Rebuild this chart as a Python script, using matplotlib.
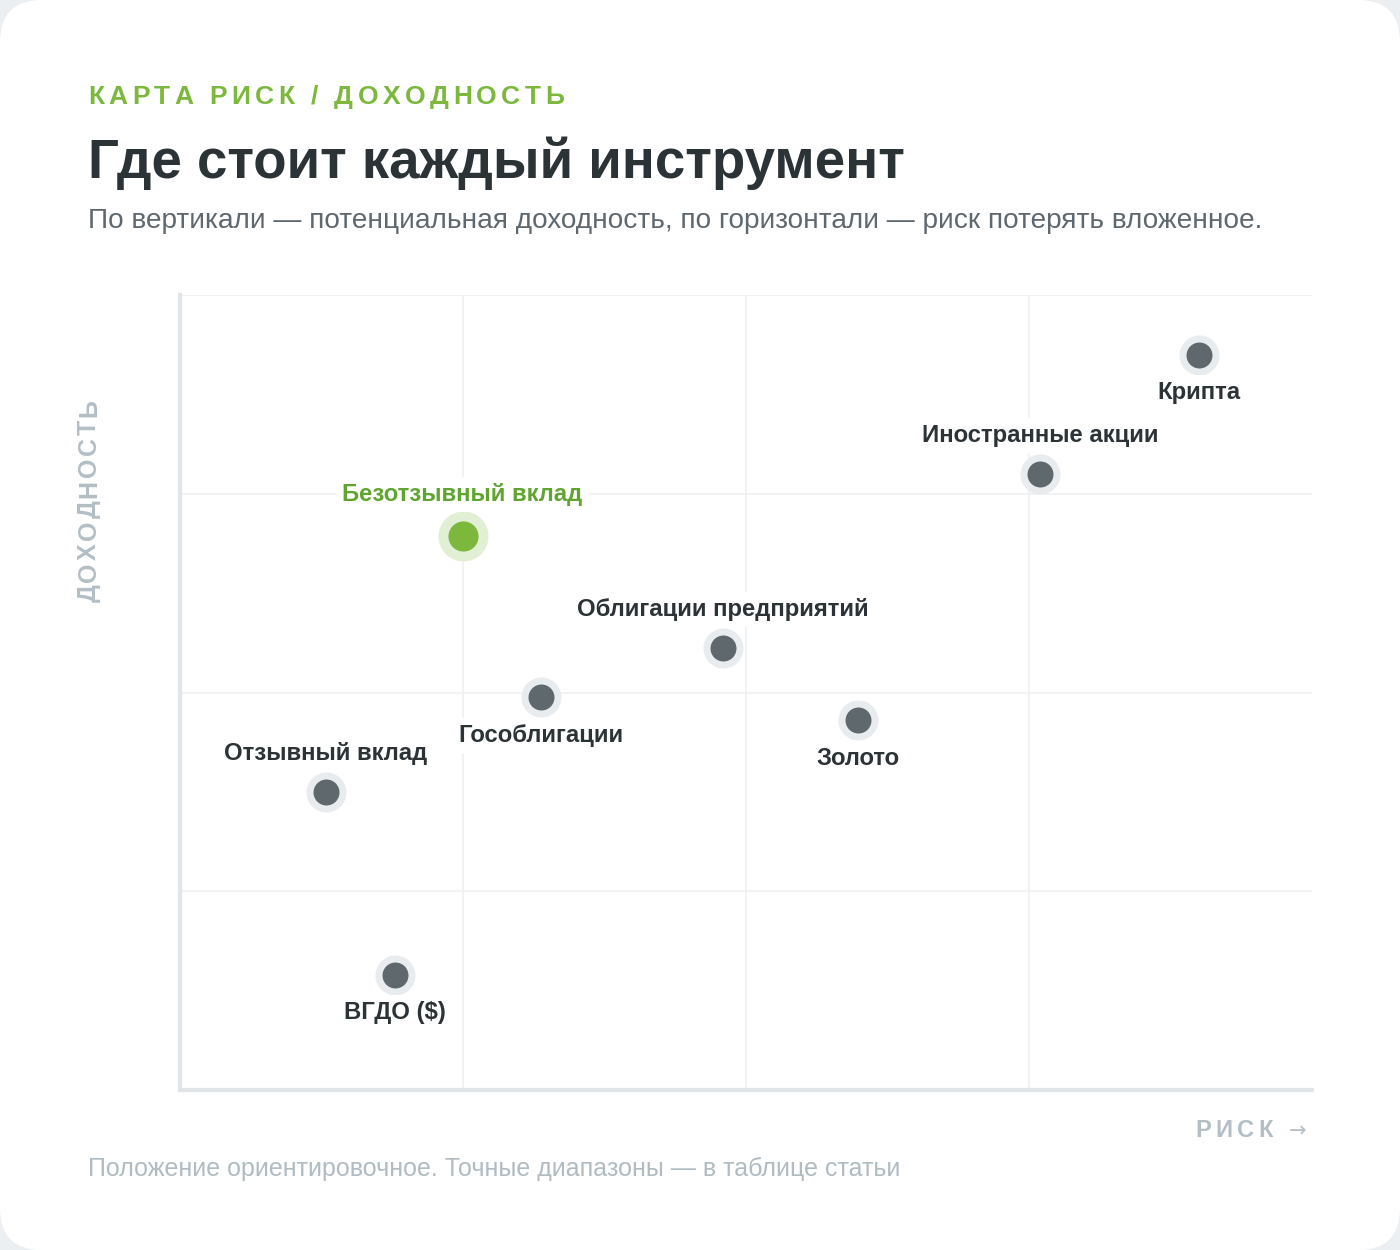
import matplotlib
matplotlib.use("Agg")
import matplotlib.pyplot as plt
from matplotlib.patches import FancyBboxPatch

plt.rcParams['font.family'] = ['Liberation Sans', 'DejaVu Sans']

# ---- data ----
names = ["Крипта", "Иностранные акции", "Безотзывный вклад", "Облигации предприятий",
         "Гособлигации", "Золото", "Отзывный вклад", "ВГДО ($)"]
risk = [90.0, 76.0, 25.0, 48.0, 31.9, 59.9, 12.9, 19.0]
ret = [92.5, 77.5, 69.7, 55.6, 49.4, 46.5, 37.5, 14.5]
label_side = ["below", "above", "above", "above", "below", "below", "above", "below"]
highlight = "Безотзывный вклад"

W, H = 1400, 1250
fig = plt.figure(figsize=(14, 12.5), dpi=100)
fig.patch.set_facecolor('#eceff1')
card = FancyBboxPatch((0, 0), 14, 12.5, boxstyle="round,pad=0,rounding_size=0.42",
                      transform=fig.dpi_scale_trans, facecolor='white', edgecolor='none', zorder=-10)
fig.patches.append(card)

GREEN = '#7cb83c'
GREEN_TXT = '#5fa530'
DARK = '#2c3336'
GREY_DOT = '#5f686d'
HALO = '#e9ecee'
MUTED = '#b3bec5'

renderer = fig.canvas.get_renderer()

def spaced(x_px, y_px, s, spacing, rotation=0, **kw):
    pos = 0.0
    for ch in s:
        if rotation == 0:
            t = fig.text((x_px + pos) / W, 1 - y_px / H, ch, ha='left', va='baseline', **kw)
        else:
            t = fig.text(x_px / W, 1 - (y_px - pos) / H, ch, ha='left', va='bottom',
                         rotation=90, rotation_mode='anchor', **kw)
        bb = t.get_window_extent(renderer)
        adv = bb.width if rotation == 0 else bb.height
        if ch == ' ':
            adv = kw.get('fontsize', 12) * 100 / 72 * 0.28
        pos += adv + spacing

# header texts
spaced(88, 104, "КАРТА РИСК / ДОХОДНОСТЬ", 4.4, fontsize=19, fontweight='bold', color=GREEN)
fig.text(88 / W, 1 - 178 / H, "Где стоит каждый инструмент", fontsize=39.3, fontweight='bold',
         color=DARK, ha='left', va='baseline')
fig.text(88 / W, 1 - 228 / H,
         "По вертикали — потенциальная доходность, по горизонтали — риск потерять вложенное.",
         fontsize=20.2, color='#5e686e', ha='left', va='baseline')
fig.text(88 / W, 1 - 1176 / H, "Положение ориентировочное. Точные диапазоны — в таблице статьи",
         fontsize=18.0, color='#b0bbc2', ha='left', va='baseline')

# axis labels
spaced(101, 602, "ДОХОДНОСТЬ", 2.6, rotation=90, fontsize=18, fontweight='bold', color=MUTED)
spaced(1195, 1137, "РИСК", 4.5, fontsize=17, fontweight='bold', color=MUTED)
fig.text(1306 / W, 1 - 1137 / H, "→", fontsize=15, color=MUTED, ha='right', va='baseline',
         family=['DejaVu Sans'])

# axes
ax = fig.add_axes([179.5 / W, 1 - 1090 / H, 1132.5 / W, 795 / H])
ax.set_xlim(0, 100)
ax.set_ylim(0, 100)
ax.set_facecolor('none')
for sp in ['top', 'right']:
    ax.spines[sp].set_visible(False)
for sp in ['left', 'bottom']:
    ax.spines[sp].set_color('#dfe5e9')
    ax.spines[sp].set_linewidth(3.0)
ax.set_xticks([25, 50, 75])
ax.set_yticks([25, 50, 75, 100])
ax.tick_params(length=0, labelbottom=False, labelleft=False)
ax.grid(True, color='#edf0f2', linewidth=1.2, zorder=0)
ax.set_axisbelow(True)

for n, x, y, side in zip(names, risk, ret, label_side):
    hl = (n == highlight)
    if hl:
        ax.scatter([x], [y], s=1296, color='#e1efd5', zorder=3, linewidths=0)
        ax.scatter([x], [y], s=470, color=GREEN, zorder=4, linewidths=0)
        off = 29.5
    else:
        ax.scatter([x], [y], s=830, color=HALO, zorder=3, linewidths=0)
        ax.scatter([x], [y], s=350, color=GREY_DOT, zorder=4, linewidths=0)
        off = 27.5
    dy = off if side == 'above' else -off
    ax.annotate(n, (x, y), xytext=(0, dy), textcoords='offset points', ha='center', va='center',
                fontsize=17.2, fontweight='bold', color=GREEN_TXT if hl else DARK, zorder=5,
                bbox=dict(boxstyle='square,pad=0.25', facecolor='white', edgecolor='none'))

fig.savefig('out.png', dpi=100, facecolor=fig.get_facecolor())
